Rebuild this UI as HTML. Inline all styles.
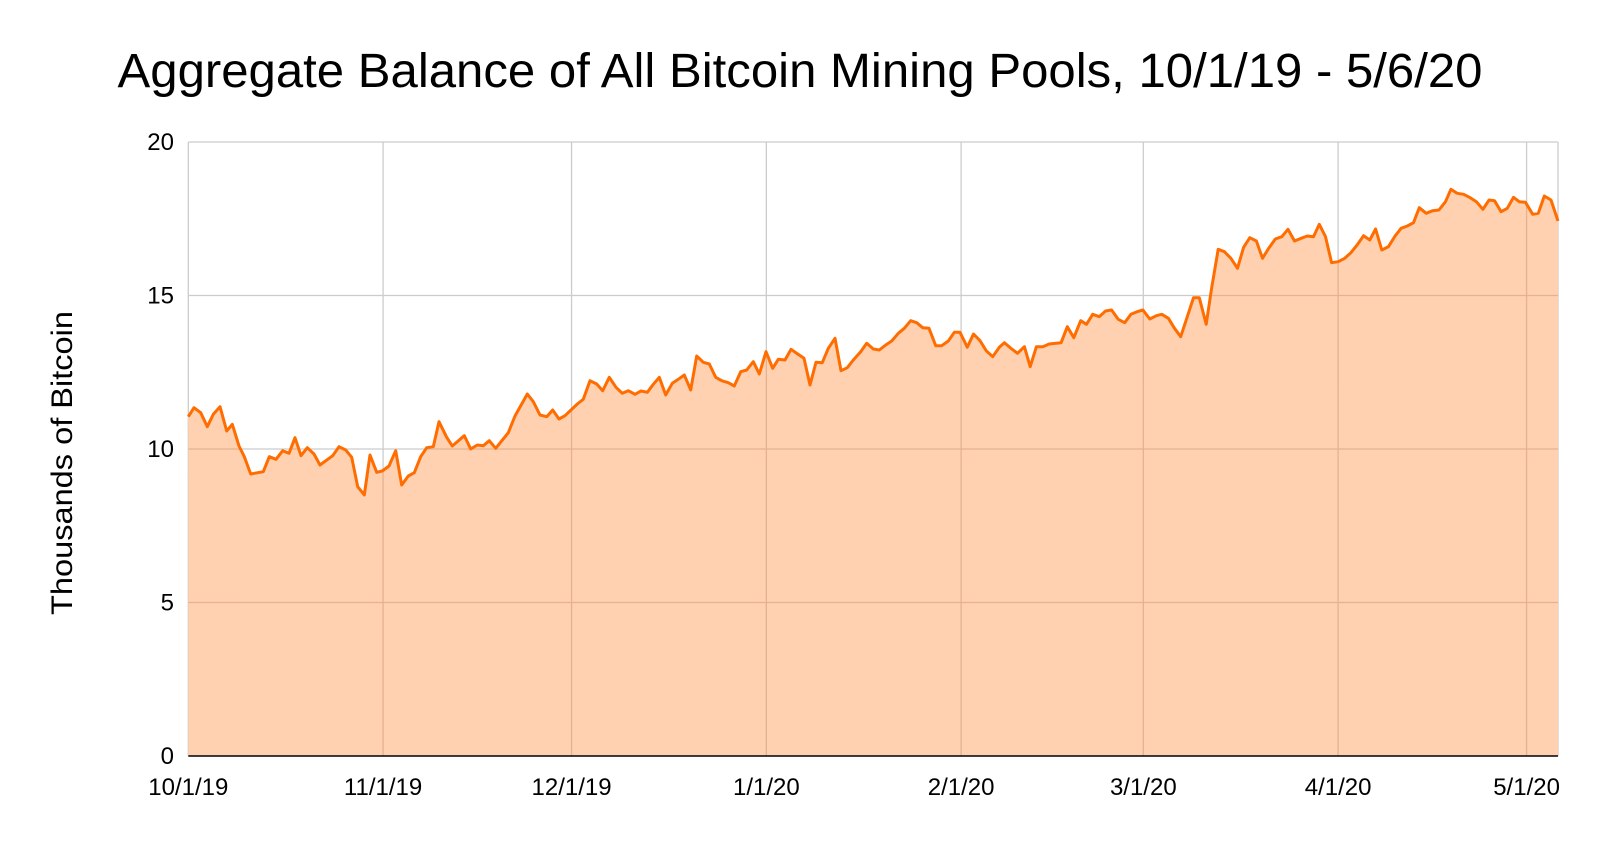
<!DOCTYPE html>
<html><head><meta charset="utf-8"><style>
html,body{margin:0;padding:0;background:#fff;width:1600px;height:843px;overflow:hidden}
svg{display:block}
text{font-family:"Liberation Sans",Arial,sans-serif;fill:#000}
</style></head><body>
<svg id="s" width="1600" height="843" viewBox="0 0 1600 843" xmlns="http://www.w3.org/2000/svg">
<defs><clipPath id="ac"><path id="areaclip"/></clipPath></defs>
<text x="800" y="87" font-size="48" text-anchor="middle" textLength="1365" lengthAdjust="spacingAndGlyphs">Aggregate Balance of All Bitcoin Mining Pools, 10/1/19 - 5/6/20</text>
<g id="grid" stroke="#cccccc" stroke-width="1.3"></g>
<path id="area" fill="#ffd1b0" stroke="none"/>
<g id="grid2" stroke="#d9a584" stroke-width="1.3" opacity="0.7" clip-path="url(#ac)"></g>
<path id="line" fill="none" stroke="#ff6d01" stroke-width="3" stroke-linejoin="round"/>
<line x1="188.3" y1="756" x2="1558" y2="756" stroke="#000" stroke-width="1.5"/>
<g id="labels" font-size="24"></g>
<text transform="translate(72,463) rotate(-90)" font-size="30" text-anchor="middle" textLength="304" lengthAdjust="spacingAndGlyphs">Thousands of Bitcoin</text>
</svg>
<script>
var L=188.3,R=1558,Y0=756,U=30.7;
var z1=[[25,170],[42,143],[62,158],[82,200],[100,163],[120,140],[140,213],[157,193],[177,258],[193,290],[212,342],[250,335],[268,290],[288,298],[308,272],[327,280],[345,233],[363,287],[382,263],[402,282],[420,315],[458,287],[477,260],[497,270],[515,292],[533,380],[553,405],[570,285],[590,337],[607,333],[627,318],[647,272],[665,375],[685,348],[703,338],[722,290],[740,263],[760,260],[777,185],[800,232],[817,258],[853,227],[872,267],[892,255],[910,257],[928,242],[947,265],[985,218],[1005,168],[1042,102],[1060,125],[1080,165],[1100,170],[1118,150],[1137,177],[1155,167]];
var z2=[[52,372],[70,358],[90,302],[110,312],[128,332],[148,292],[168,322],[187,340],[205,332],[225,343],[243,333],[262,337],[280,313],[298,292],[317,345],[337,310],[355,298],[373,285],[392,330],[410,228],[430,247],[448,252],[467,292],[485,302],[505,308],[523,318],[542,275],[560,270],[580,245],[598,282],[618,215],[638,265],[655,238],[675,240],[693,208],[713,222],[732,235],[750,315],[768,247],[787,248],[805,205],[825,175],[843,272],[862,263],[880,240],[902,215],[920,190],[940,207],[958,210],[977,195],[995,183],[1015,160],[1033,145],[1052,122],[1070,128],[1088,143],[1107,145],[1127,197],[1145,197],[1165,183],[1183,157],[1200,157]];
var z3=[[20,532],[37,492],[55,512],[72,542],[90,560],[108,532],[122,518],[140,535],[158,550],[177,530],[193,590],[210,530],[228,530],[245,522],[278,518],[295,470],[313,503],[332,452],[348,463],[365,433],[383,440],[400,423],[417,420],[435,448],[453,458],[470,433],[487,425],[503,420],[522,447],[540,437],[555,433],[573,445],[590,475],[607,500],[625,440],[642,383],[658,383],[677,463],[692,355],[710,238],[727,245],[745,265],[763,295],[780,232],[797,203],[815,213],[832,265],[850,233],[867,207],[885,200],[902,178],[920,213],[938,205],[955,198],[972,200],[988,163],[1005,200],[1022,278],[1040,275],[1058,265],[1075,248],[1092,225],[1110,197],[1127,210],[1143,177],[1160,240],[1178,230],[1197,197],[1213,175],[1230,168],[1247,158],[1263,113],[1282,130],[1300,122],[1317,120],[1335,95],[1350,58],[1367,70],[1385,73],[1403,83],[1420,95],[1438,118],[1455,90],[1470,92],[1488,125],[1505,115],[1522,82],[1538,95],[1555,97]];
var z4=[[458,193],[475,190],[493,138],[513,150],[533,213]];
var pts=[];
z1.forEach(function(p){pts.push([180+p[0]/3,360+p[1]/3]);});
z2.forEach(function(p){pts.push([560+p[0]/3,280+p[1]/3]);});
z3.forEach(function(p){pts.push([960+p[0]/2.75,170+p[1]/3]);});
z4.forEach(function(p){pts.push([1380+p[0]/3,150+p[1]/3]);});
pts[0][0]=L;pts[pts.length-1][0]=R;
var d=pts.map(function(p,i){return (i?"L":"M")+p[0].toFixed(1)+" "+p[1].toFixed(1);}).join(" ");
var ad=d+" L"+R+" "+Y0+" L"+L+" "+Y0+" Z";
document.getElementById("line").setAttribute("d",d);
document.getElementById("area").setAttribute("d",ad);
document.getElementById("areaclip").setAttribute("d",ad);
var ns="http://www.w3.org/2000/svg";
function el(g,t,a,txt){var e=document.createElementNS(ns,t);for(var k in a)e.setAttribute(k,a[k]);if(txt!=null)e.textContent=txt;document.getElementById(g).appendChild(e);}
var days=[0,31,61,92,123,152,183,213],names=["10/1/19","11/1/19","12/1/19","1/1/20","2/1/20","3/1/20","4/1/20","5/1/20"];
var pd=(R-L)/218;
for(var v=5;v<=20;v+=5){var y=Y0-v*U;el("grid","line",{x1:L,x2:R,y1:y,y2:y});}
days.forEach(function(dd,i){var x=L+dd*pd;if(i>0)el("grid","line",{x1:x,x2:x,y1:Y0-20*U,y2:Y0});
el("labels","text",{x:x,y:795,"text-anchor":"middle"},names[i]);});
el("grid","line",{x1:L,x2:L,y1:Y0-20*U,y2:Y0});
el("grid","line",{x1:R,x2:R,y1:Y0-20*U,y2:Y0});
for(var v=5;v<=15;v+=5){var y=Y0-v*U;el("grid2","line",{x1:L,x2:R,y1:y,y2:y});}
days.forEach(function(dd,i){if(i>0){var x=L+dd*pd;el("grid2","line",{x1:x,x2:x,y1:Y0-20*U,y2:Y0});}});
for(var v=0;v<=20;v+=5){el("labels","text",{x:174,y:Y0-v*U+8,"text-anchor":"end"},String(v));}
</script>
</body></html>
